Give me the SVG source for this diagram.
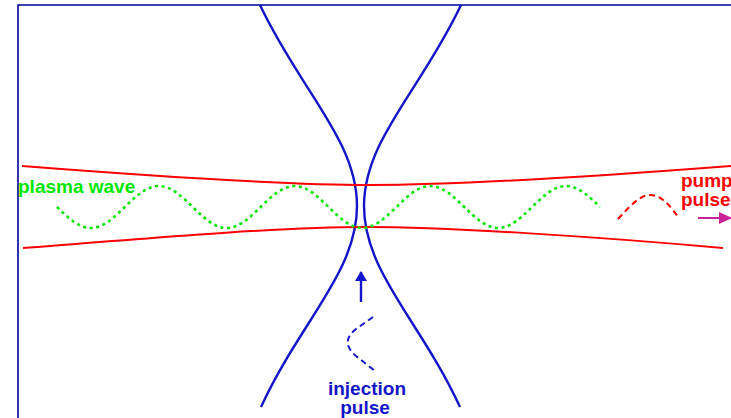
<svg xmlns="http://www.w3.org/2000/svg" width="731" height="418" viewBox="0 0 731 418">
<style>
.lbl{font-family:"Liberation Sans",Arial,Helvetica,sans-serif;font-weight:bold;font-size:19px}
.blue{fill:none;stroke:#1414c8;stroke-width:2.4}
.red{fill:none;stroke:#ff0000;stroke-width:2}
</style>
<defs>
<marker id="ahBlue" markerWidth="10" markerHeight="12" refX="9" refY="6" orient="auto" markerUnits="userSpaceOnUse">
<path d="M0,0 L10,6 L0,12 Z" fill="#1414c8"/>
</marker>
<marker id="ahMag" markerWidth="13" markerHeight="12" refX="12" refY="6" orient="auto" markerUnits="userSpaceOnUse">
<path d="M0,0 L13,6 L0,12 Z" fill="#cc2299"/>
</marker>
</defs>
<rect width="731" height="418" fill="#ffffff"/>
<g id="frame">
<path d="M18,418 L18,5 L731,5" fill="none" stroke="#000099" stroke-width="1.6"/>
</g>
<g id="injection-beam">
<path class="blue" d="M260,5 C300,90 357,140 357,206 C357,272 300,322 261,407"/>
<path class="blue" d="M461,5 C421,90 364,140 364,206 C364,272 421,322 460,407"/>
</g>
<g id="pump-beam">
<path class="red" d="M22,166 C150,176 280,185 370,185 C460,185 600,176 731,166"/>
<path class="red" d="M23,248 C150,238 280,227 365,227 C450,227 600,237 723,248"/>
</g>
<g id="plasma-wave">
<path fill="none" stroke="#00e600" stroke-width="2.6" stroke-dasharray="3 3.6" d="M57,207 C68.07,217.76 78.66,228 90.94,228 C103.22,228 113.81,217.76 124.88,207 C135.95,196.24 146.54,186 158.81,186 C171.09,186 181.68,196.24 192.75,207 C203.82,217.76 214.41,228 226.69,228 C238.97,228 249.56,217.76 260.63,207 C271.70,196.24 282.29,186 294.56,186 C306.84,186 317.43,196.24 328.5,207 C339.57,217.76 350.16,228 362.44,228 C374.72,228 385.31,217.76 396.38,207 C407.45,196.24 418.04,186 430.31,186 C442.59,186 453.18,196.24 464.25,207 C475.32,217.76 485.91,228 498.19,228 C510.47,228 521.06,217.76 532.13,207 C543.20,196.24 553.79,186 566.06,186 C578.34,186 588.93,196.24 600,207"/>
<text class="lbl" x="18" y="193" fill="#00e600">plasma wave</text>
</g>
<g id="pump-pulse">
<path fill="none" stroke="#ff0000" stroke-width="2" stroke-dasharray="6 4" d="M618,219 C630,206 640,195 650,195 C662,195 670,206 679,218"/>
<text class="lbl" x="681" y="187" fill="#ff0000">pump</text>
<text class="lbl" x="681" y="206" fill="#ff0000">pulse</text>
</g>
<g id="injection-pulse">
<path fill="none" stroke="#1414c8" stroke-width="2" stroke-dasharray="6 4" d="M373,317 L356,329 Q346,337 348,345 Q350,351 356,356 L375,371"/>
<text class="lbl" x="367" y="395" fill="#1414c8" text-anchor="middle">injection</text>
<text class="lbl" x="365" y="414" fill="#1414c8" text-anchor="middle">pulse</text>
</g>
<g id="connectors">
<line x1="361" y1="302" x2="361" y2="272" stroke="#1414c8" stroke-width="2.4" marker-end="url(#ahBlue)"/>
<line x1="698" y1="218" x2="731" y2="218" stroke="#cc2299" stroke-width="2" marker-end="url(#ahMag)"/>
</g>
</svg>
